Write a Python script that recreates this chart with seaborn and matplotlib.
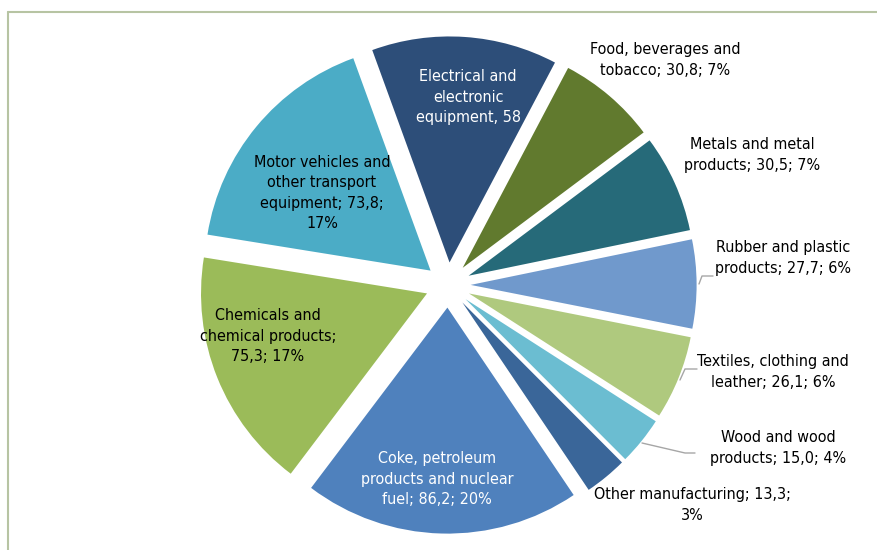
import os
import matplotlib
matplotlib.use("Agg")
import matplotlib.pyplot as plt
from matplotlib import font_manager
from matplotlib.lines import Line2D
import seaborn as sns

# ---- data ----
categories = [
    "Electrical and electronic equipment",
    "Food, beverages and tobacco",
    "Metals and metal products",
    "Rubber and plastic products",
    "Textiles, clothing and leather",
    "Wood and wood products",
    "Other manufacturing",
    "Coke, petroleum products and nuclear fuel",
    "Chemicals and chemical products",
    "Motor vehicles and other transport equipment",
]
values = [58.0, 30.8, 30.5, 27.7, 26.1, 15.0, 13.3, 86.2, 75.3, 73.8]
label_texts = [
    "Electrical and\nelectronic\nequipment, 58",
    "Food, beverages and\ntobacco; 30,8; 7%",
    "Metals and metal\nproducts; 30,5; 7%",
    "Rubber and plastic\nproducts; 27,7; 6%",
    "Textiles, clothing and\nleather; 26,1; 6%",
    "Wood and wood\nproducts; 15,0; 4%",
    "Other manufacturing; 13,3;\n3%",
    "Coke, petroleum\nproducts and nuclear\nfuel; 86,2; 20%",
    "Chemicals and\nchemical products;\n75,3; 17%",
    "Motor vehicles and\nother transport\nequipment; 73,8;\n17%",
]
colors = ["#2d4e79", "#617a2e", "#266a79", "#7099cc", "#afc97e",
          "#6bbdd1", "#3a6699", "#4f81bd", "#9bbb59", "#4bacc6"]
text_colors = ["white", "black", "black", "black", "black",
               "black", "black", "white", "black", "black"]

sns.set_theme(style="white")
plt.rcParams["font.family"] = ["Liberation Sans", "DejaVu Sans"]

# look for a narrow / condensed sans face to mimic the condensed original
font_props = None
fsize, lsp = 11.8, 1.5
files = font_manager.findSystemFonts()
narrow = [f for f in files if "LiberationSansNarrow-Regular" in os.path.basename(f)]
cond = [f for f in files if os.path.basename(f) == "DejaVuSansCondensed.ttf"]
if narrow:
    font_props = font_manager.FontProperties(fname=narrow[0])
    fsize, lsp = 14.0, 1.25
elif cond:
    font_props = font_manager.FontProperties(fname=cond[0])
    fsize, lsp = 11.5, 1.43

W, H = 878, 550
fig = plt.figure(figsize=(W / 100, H / 100), dpi=100)
ax = fig.add_axes([0, 0, 1, 1])

cx, cy, R = 448, 285, 226  # pixel layout of the pie centre / radius


def px(x, y):
    return ((x - cx) / R, (cy - y) / R)


ax.pie(values, colors=colors, startangle=110, counterclock=False,
       explode=[0.1] * len(values), radius=1.0,
       wedgeprops=dict(linewidth=0))
ax.set_xlim(-cx / R, (W - cx) / R)
ax.set_ylim(-(H - cy) / R, cy / R)
ax.set_aspect("auto")
ax.axis("off")

label_pos = [(468, 97), (665, 60), (752, 155), (783, 258), (773, 372),
             (778, 448), (692, 505), (437, 479), (268, 336), (322, 193)]
for txt, (x, y), c in zip(label_texts, label_pos, text_colors):
    t = ax.text(*px(x, y), txt, ha="center", va="center", color=c,
                fontsize=fsize, linespacing=lsp)
    if font_props is not None:
        t.set_fontproperties(font_props)
        t.set_fontsize(fsize)

# leader lines
leaders = [
    [(699, 284), (702, 276), (713, 276)],
    [(680, 380), (685, 369), (697, 369)],
    [(642, 443), (685, 453), (695, 453)],
]
for pts in leaders:
    xs, ys = zip(*[px(a, b) for a, b in pts])
    ax.plot(xs, ys, color="#a6a6a6", lw=1.0)

# chart border (top and left)
bc = "#b7c4a3"
fig.add_artist(Line2D([8 / W, 1], [1 - 12 / H, 1 - 12 / H], color=bc, lw=1.5,
                      transform=fig.transFigure))
fig.add_artist(Line2D([8 / W, 8 / W], [0, 1 - 12 / H], color=bc, lw=1.5,
                      transform=fig.transFigure))

fig.savefig("out.png", dpi=100)
